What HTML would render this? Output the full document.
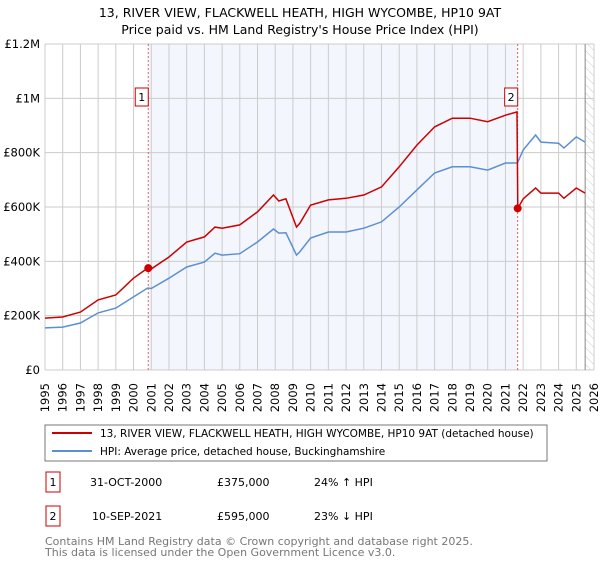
<!DOCTYPE html>
<html><head><meta charset="utf-8"><style>
body{margin:0;background:#fff;font-family:"Liberation Sans","DejaVu Sans",sans-serif;}
svg text{font-family:"DejaVu Sans","Liberation Sans",sans-serif;}
</style></head><body>
<svg id="c" width="600" height="560" xmlns="http://www.w3.org/2000/svg">
<defs><pattern id="hatch" width="6" height="6" patternUnits="userSpaceOnUse" patternTransform="rotate(-45)"><line x1="0" y1="0" x2="0" y2="6" stroke="#ccc" stroke-width="1"/></pattern></defs>
<text x="300" y="17" text-anchor="middle" font-size="12.5" fill="#000">13, RIVER VIEW, FLACKWELL HEATH, HIGH WYCOMBE, HP10 9AT</text>
<text x="300" y="34" text-anchor="middle" font-size="12.5" fill="#000">Price paid vs. HM Land Registry's House Price Index (HPI)</text>
<g id="plot"></g>
<rect x="45" y="425" width="502" height="36" fill="#fff" stroke="#777"/>
<line x1="52" y1="433" x2="92" y2="433" stroke="#cc0000" stroke-width="2"/>
<text x="100" y="437" font-size="10.5">13, RIVER VIEW, FLACKWELL HEATH, HIGH WYCOMBE, HP10 9AT (detached house)</text>
<line x1="52" y1="451" x2="92" y2="451" stroke="#5b8fd4" stroke-width="2"/>
<text x="100" y="455" font-size="10.5">HPI: Average price, detached house, Buckinghamshire</text>
<g>
<rect x="46" y="472" width="14" height="20" fill="#fff" stroke="#cc0000"/>
<text x="53" y="486" text-anchor="middle" font-size="11">1</text>
<text x="90" y="486" font-size="11">31-OCT-2000</text>
<text x="217" y="486" font-size="11">£375,000</text>
<text x="314" y="486" font-size="11">24% ↑ HPI</text></g>
<g>
<rect x="46" y="506" width="14" height="20" fill="#fff" stroke="#cc0000"/>
<text x="53" y="520" text-anchor="middle" font-size="11">2</text>
<text x="92" y="520" font-size="11">10-SEP-2021</text>
<text x="217" y="520" font-size="11">£595,000</text>
<text x="314" y="520" font-size="11">23% ↓ HPI</text></g>
<text x="45" y="545" font-size="11" fill="#777">Contains HM Land Registry data © Crown copyright and database right 2025.</text>
<text x="45" y="556" font-size="11" fill="#777">This data is licensed under the Open Government Licence v3.0.</text>
</svg>
<script>
const years=[1995,1996,1997,1998,1999,2000,2000.8,2001,2002,2003,2004,2004.6,2005,2006,2007,2007.9,2008.2,2008.6,2009.2,2009.4,2010,2011,2012,2013,2014,2015,2016,2017,2018,2019,2020,2021,2021.65,2021.7,2022,2022.7,2023,2024,2024.3,2025,2025.5];
const hpiValues=[155,158,173,210,228,269,302,300,338,379,397,430,423,428,471,519,504,505,423,436,486,508,508,522,545,600,663,725,748,748,736,762,762,765,810,865,839,835,817,858,839];
const priceValues=[191,195,213,258,276,338,375,372,416,471,490,526,522,534,582,644,622,630,526,541,607,626,632,644,674,748,828,895,927,927,914,938,950,595,630,670,651,651,632,670,651];
const yTicks=[0,200,400,600,800,1000,1200];
const yTickLabels=["£0","£200K","£400K","£600K","£800K","£1M","£1.2M"];
const saleYears=[2000.83,2021.69];
const saleValues=[375,595];
const saleLabels=["1","2"];
const X0=45,X1=594,Y0=370,Y1=44,YMIN=1995,YMAX=2026;
const xs=v=>X0+(v-YMIN)/(YMAX-YMIN)*(X1-X0);
const ys=v=>Y0-v/1200*(Y0-Y1);
const g=document.getElementById('plot');
const NS='http://www.w3.org/2000/svg';
function mk(t,a){const e=document.createElementNS(NS,t);for(const k in a)e.setAttribute(k,a[k]);g.appendChild(e);return e;}
let e=mk('rect',{x:xs(saleYears[0]),y:Y1,width:xs(saleYears[1])-xs(saleYears[0]),height:Y0-Y1,fill:'#f3f6fd'});


e=mk('rect',{x:xs(2025.5),y:Y1,width:X1-xs(2025.5),height:Y0-Y1,fill:'url(#hatch)'});


for(let y=YMIN;y<=YMAX;y++){
 e=mk('line',{x1:xs(y),x2:xs(y),y1:Y1,y2:Y0,stroke:'#ccc','stroke-width':1});
 
 
 e=mk('text',{transform:`translate(${xs(y)+4},383) rotate(-90)`,'text-anchor':'end','font-size':11.5});
 e.textContent=y;
 
 
}
yTicks.forEach((v,i)=>{
 e=mk('line',{x1:X0,x2:X1,y1:ys(v),y2:ys(v),stroke:'#ccc','stroke-width':1});
 
 
 e=mk('text',{x:X0-5,y:ys(v)+4,'text-anchor':'end','font-size':11.5});
 e.textContent=yTickLabels[i];
 
 
});
e=mk('line',{x1:xs(2025.5),x2:xs(2025.5),y1:Y1,y2:Y0,stroke:'#888','stroke-width':1});


saleYears.forEach((s,i)=>{
 e=mk('line',{x1:xs(s),x2:xs(s),y1:Y1,y2:Y0,stroke:'#e06060','stroke-width':1,'stroke-dasharray':'2,2'});
 
 
});
const pts=a=>years.map((y,i)=>xs(y).toFixed(1)+','+ys(a[i]).toFixed(1)).join(' ');
e=mk('polyline',{points:pts(hpiValues),fill:'none',stroke:'#5b8fd4','stroke-width':1.5});


e=mk('polyline',{points:pts(priceValues),fill:'none',stroke:'#cc0000','stroke-width':1.5});


saleYears.forEach((s,i)=>{
 e=mk('circle',{cx:xs(s),cy:ys(saleValues[i]),r:4,fill:'#cc0000'});
 
 
 e=mk('rect',{x:xs(s)-13,y:88,width:13,height:18,fill:'#fff',stroke:'#cc0000'});
 
 
 e=mk('text',{x:xs(s)-6.5,y:101,'text-anchor':'middle','font-size':11});
 e.textContent=saleLabels[i];
 
 
});
</script>
</body></html>
